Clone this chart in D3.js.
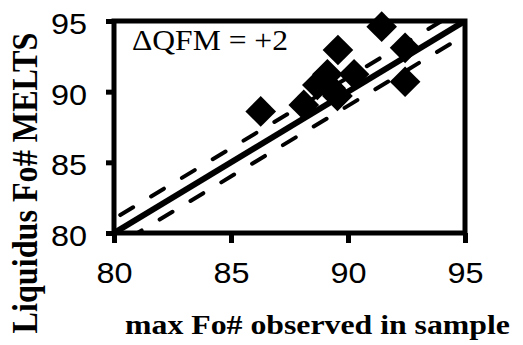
<!DOCTYPE html>
<html><head><meta charset="utf-8">
<script src="https://cdn.jsdelivr.net/npm/d3@7"></script>
<style>body{margin:0;background:#fff}</style>
</head><body>
<svg id="c" width="523" height="345"></svg>
<script>
const xTicks = [80, 85, 90, 95];
const yTicks = [80, 85, 90, 95];
const obsFo   = [86.27, 88.11, 88.69, 89.12, 89.26, 89.55, 89.57, 90.26, 91.44, 92.44, 92.44];
const meltsFo = [88.60, 89.06, 90.47, 91.23, 90.24, 89.70, 92.95, 91.23, 94.60, 93.10, 90.70];
const oneToOne = [80, 95];
const offset = 1.0;
const label = "\u0394QFM = +2";
const xTitle = "max Fo# observed in sample";
const yTitle = "Liquidus Fo# MELTS";

const svg = d3.select("#c");
const x = d3.scaleLinear().domain([80, 95]).range([114, 465]);
const y = d3.scaleLinear().domain([80, 95]).range([233, 21]);
const SX = 1.08;

svg.append("clipPath").attr("id", "pc").append("rect")
  .attr("x", x(80)).attr("y", y(95)).attr("width", x(95) - x(80)).attr("height", y(80) - y(95));

const g = svg.append("g").attr("clip-path", "url(#pc)");
const line = d3.line().x(d => x(d[0])).y(d => y(d[1]));
[offset, -offset].forEach(o => {
  g.append("path").attr("d", line([[78, 78 + o], [97, 97 + o]]))
    .attr("fill", "none").attr("stroke", "#000").attr("stroke-width", 4)
    .attr("stroke-dasharray", "15,21").attr("stroke-dashoffset", o > 0 ? 10 : 0)
    .attr("stroke-linecap", "round");
});
g.append("path").attr("d", line(oneToOne.map(v => [v, v])))
  .attr("fill", "none").attr("stroke", "#000").attr("stroke-width", 6);

svg.append("g").selectAll("path").data(obsFo.map((v, i) => [v, meltsFo[i]])).join("path")
  .attr("transform", d => `translate(${x(d[0])},${y(d[1])}) rotate(45)`)
  .attr("d", d3.symbol().type(d3.symbolSquare).size(470)())
  .attr("fill", "#000");

svg.append("rect").attr("x", x(80)).attr("y", y(95)).attr("width", x(95) - x(80)).attr("height", y(80) - y(95))
  .attr("fill", "none").attr("stroke", "#000").attr("stroke-width", 5);

const xa = svg.append("g").attr("transform", `translate(0,${y(80)})`)
  .call(d3.axisBottom(x).tickValues(xTicks).tickSize(10).tickSizeOuter(0).tickFormat(d3.format("d")));
const ya = svg.append("g").attr("transform", `translate(${x(80)},0)`)
  .call(d3.axisLeft(y).tickValues(yTicks).tickSize(8).tickSizeOuter(0).tickFormat(d3.format("d")));
[xa, ya].forEach(a => {
  a.select(".domain").remove();
  a.selectAll("line").attr("stroke", "#000").attr("stroke-width", 5);
  a.selectAll("text").attr("font-family", "Liberation Sans, Arial, sans-serif").attr("font-size", 30).attr("fill", "#000");
});
xa.selectAll(".tick text").attr("y", 0).attr("dy", 0)
  .attr("transform", `translate(0,50) scale(${SX},1)`);
ya.selectAll(".tick text").attr("x", 0).attr("dy", 0).attr("text-anchor", "end")
  .attr("transform", `translate(-27,12.5) scale(${SX},1)`);

function fit(sel, w) { const n = sel.node().getComputedTextLength(); return w / n; }
const lab = svg.append("text")
  .attr("font-family", "Liberation Serif, Times New Roman, serif").attr("font-size", 29).text(label);
lab.attr("transform", `translate(132,50) scale(${fit(lab, 156)},1)`);

const xt = svg.append("text").attr("text-anchor", "middle")
  .attr("font-family", "Liberation Serif, Times New Roman, serif").attr("font-weight", "bold").attr("font-size", 27).text(xTitle);
xt.attr("transform", `translate(317.5,334) scale(${fit(xt, 385)},1)`);

const yt = svg.append("text").attr("text-anchor", "middle")
  .attr("font-family", "Liberation Serif, Times New Roman, serif").attr("font-weight", "bold").attr("font-size", 27).text(yTitle);
const ys = fit(yt, 301);
yt.attr("font-size", 27 * ys);
yt.attr("transform", `translate(37,183) scale(${23 / (0.66 * 27 * ys)},1) rotate(-90)`);
</script>
</body></html>
